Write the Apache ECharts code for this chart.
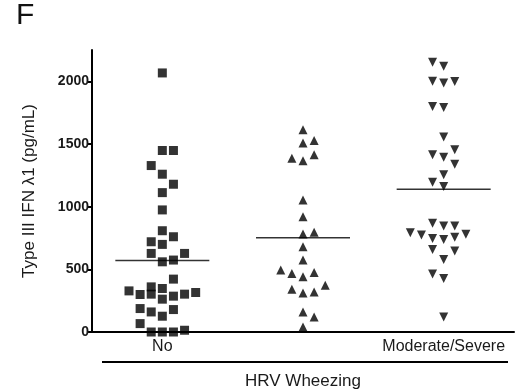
<!DOCTYPE html>
<html>
<head>
<meta charset="utf-8">
<script src="https://cdn.jsdelivr.net/npm/echarts@6/dist/echarts.min.js"></script>
<style>
  html, body { margin: 0; padding: 0; background: #fff; }
  #container { width: 519px; height: 390px; }
</style>
</head>
<body>
<div id="container"></div>
<script>
var dom = document.getElementById("container");
var chart = echarts.init(dom);

const categories = ["No", "Mild", "Moderate/Severe"];

// values, with the jitter column each point sits in
const noValues = [2067, 1448, 1448, 1328, 1259, 1179, 1112, 974, 808, 760, 720, 699, 627, 627, 560, 574, 422,
    328, 299, 360, 302, 347, 262, 286, 302, 315, 187, 160, 126, 179, 67, 0, 0, 0, 14];
const noSlots = [0, 0, 1, -1, 0, 1, 0, 0, 0, 1, -1, 0, -1, 2, 0, 1, 1,
    -3, -2, -1, -1, 0, 0, 1, 2, 3, -2, -1, 0, 1, -2, -1, 0, 1, 2];

const mildValues = [1614, 1507, 1528, 1387, 1366, 1414, 1054, 920, 782, 795, 680, 574,
    494, 467, 440, 475, 342, 312, 320, 374, 160, 120, 40];
const mildSlots = [0, 0, 1, -1, 0, 1, 0, 0, 0, 1, 0, 0,
    -2, -1, 0, 1, -1, 0, 1, 2, 0, 1, 0];

const severeValues = [2152, 2120, 2000, 1987, 1998, 1800, 1792, 1555, 1454, 1414, 1395, 1339, 1254, 1195, 1160,
    867, 846, 846, 792, 774, 747, 739, 755, 779, 659, 646, 579, 462, 427, 120];
const severeSlots = [-1, 0, -1, 0, 1, -1, 0, 0, 1, -1, 0, 1, 0, -1, 0,
    -1, 0, 1, -3, -2, -1, 0, 1, 2, -1, 1, 0, -1, 0, 0];

const medians = [571, 752, 1139];

const JITTER = 0.079;
const fontFamily = "Liberation Sans, Arial, sans-serif";

function points(group, values, slots) {
    return values.map(function (v, i) {
        return [group + slots[i] * JITTER, v];
    });
}

var option = {
    animation: false,
    textStyle: { fontFamily: fontFamily },
    title: {
        text: "F",
        left: 11,
        top: -4,
        textStyle: { fontSize: 30, fontWeight: "normal", color: "#111", fontFamily: fontFamily },
    },
    grid: {
        top: 50,
        bottom: 58,
        left: 92,
        right: 5,
        outerBoundsMode: "none",
    },
    xAxis: [
        {
            type: "category",
            data: categories,
            axisLine: { onZero: false, lineStyle: { color: "#000", width: 2 } },
            axisTick: { alignWithLabel: true, length: 5, lineStyle: { color: "#000", width: 2 } },
            axisLabel: { fontSize: 16, color: "#1a1a1a", margin: 7 },
            name: "HRV Wheezing",
            nameLocation: "middle",
            nameGap: 41,
            nameTextStyle: { fontSize: 17, color: "#1a1a1a" },
        },
        {
            type: "value",
            min: -0.5,
            max: 2.5,
            show: false,
        },
    ],
    yAxis: {
        type: "value",
        min: 0,
        max: 2250,
        interval: 500,
        axisLine: { show: true, onZero: false, lineStyle: { color: "#000", width: 2 } },
        axisTick: { show: true, length: 5, lineStyle: { color: "#000", width: 2 } },
        axisLabel: {
            fontSize: 14,
            fontWeight: "bold",
            color: "#1a1a1a",
            margin: 3,
            showMaxLabel: false,
            formatter: function (v) { return String(v); },
        },
        splitLine: { show: false },
        name: "Type III IFN λ1 (pg/mL)",
        nameLocation: "middle",
        nameGap: 54,
        nameTextStyle: { fontSize: 17, color: "#1a1a1a" },
    },
    graphic: {
        elements: [
            {
                type: "line",
                shape: { x1: 102, y1: 362, x2: 508, y2: 362 },
                style: { stroke: "#000", lineWidth: 2 },
            },
        ],
    },
    series: [
        {
            type: "scatter",
            xAxisIndex: 1,
            symbol: "rect",
            symbolSize: 9,
            itemStyle: { color: "#000" },
            data: points(0, noValues, noSlots),
        },
        {
            type: "scatter",
            xAxisIndex: 1,
            symbol: "triangle",
            symbolSize: 9,
            itemStyle: { color: "#000" },
            data: points(1, mildValues, mildSlots),
        },
        {
            type: "scatter",
            xAxisIndex: 1,
            symbol: "triangle",
            symbolRotate: 180,
            symbolSize: 9,
            itemStyle: { color: "#000" },
            data: points(2, severeValues, severeSlots),
        },
        {
            type: "scatter",
            xAxisIndex: 1,
            symbol: "rect",
            symbolSize: [94, 1.5],
            silent: true,
            itemStyle: { color: "#000" },
            z: 1,
            data: medians.map(function (m, i) { return [i, m]; }),
        },
    ],
};

chart.setOption(option);
</script>
</body>
</html>
